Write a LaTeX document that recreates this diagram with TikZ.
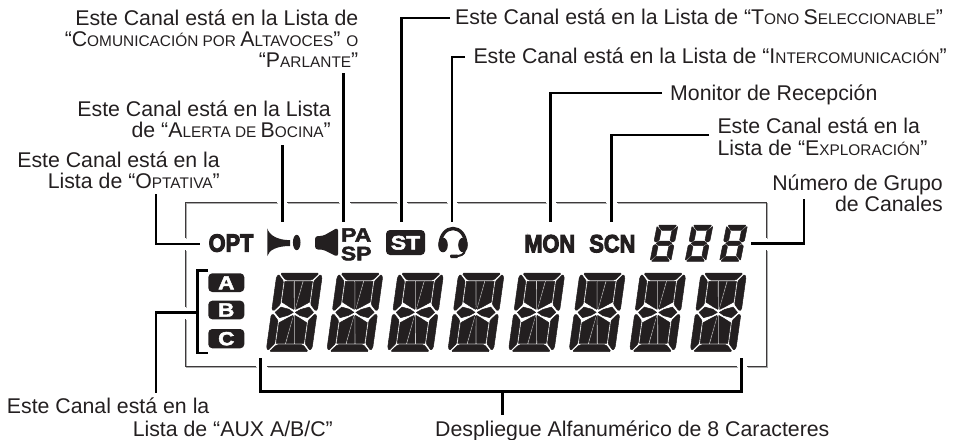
\documentclass[tikz,border=0pt]{standalone}
\usepackage{fontspec}
\setmainfont{Liberation Sans}
\newfontfamily\lcdf{Liberation Sans}[BoldFeatures={FakeBold=4,FakeStretch=.87}]
\newfontfamily\lcdw{Liberation Sans}[BoldFeatures={FakeBold=2.5,FakeStretch=1.18}]
\definecolor{ink}{HTML}{231F20}
\newcommand\smc[1]{{\fontsize{15.4}{21}\selectfont #1}}
\newcommand\rlines[1]{\begin{tabular}[t]{@{}r@{}}#1\end{tabular}}
\newcommand\llines[1]{\begin{tabular}[t]{@{}l@{}}#1\end{tabular}}
\newcommand\clines[1]{\begin{tabular}[t]{@{}c@{}}#1\end{tabular}}
\tikzset{seg/.style={fill=ink,draw=ink,line width=.5pt,line join=round}}
\newcommand\halfbig{%
  \path[seg,rounded corners=1.5pt] (-19.5,39.3)--(19.5,39.3)--(13,32.2)--(-13,32.2)--cycle;
  \path[seg,rounded corners=1pt] (-21,38)--(-22.8,35)--(-22.8,3)--(-21,1.5)--(-15.2,8)--(-15.2,31.2)--cycle;
  \path[seg,rounded corners=1pt] (21,38)--(22.8,35)--(22.8,3)--(21,1.5)--(15.2,8)--(15.2,31.2)--cycle;
  \path[seg] (-19.2,0)--(-14,5.3)--(-6,3.2)--(-1,0)--(-6,-3)--(-14,-5.3)--cycle;
  \path[seg] (-13.8,31)--(-5,31)--(-.9,3)--(-5.5,5.4)--(-13.8,10.3)--cycle;
  \path[seg] (-3.8,31)--(3.8,31)--(0,3.5)--cycle;
  \path[seg] (13.8,31)--(5,31)--(.9,3)--(5.5,5.4)--(13.8,10.3)--cycle;}
\newcommand\bigglyph[1]{%
  \begin{scope}[cm={1,0,.14,1,(#1,312.4)},x=1pt,y=1pt]
    \halfbig
    \begin{scope}[scale=-1]\halfbig\end{scope}
  \end{scope}}
\newcommand\halfsmall{%
  \path[seg,rounded corners=.8pt] (-9.2,18.1)--(9.2,18.1)--(5.2,13)--(-5.2,13)--cycle;
  \path[seg,rounded corners=.6pt] (-10.4,17)--(-5.4,12.3)--(-5.4,3.2)--(-8.2,1)--(-10.4,2.6)--cycle;
  \path[seg,rounded corners=.6pt] (10.4,17)--(5.4,12.3)--(5.4,3.2)--(8.2,1)--(10.4,2.6)--cycle;}
\newcommand\smallglyph[1]{%
  \begin{scope}[cm={1,0,.2,1,(#1,243.3)},x=1pt,y=1pt]
    \halfsmall
    \begin{scope}[scale=-1]\halfsmall\end{scope}
    \path[seg] (-7.8,0)--(-4.8,2.3)--(4.8,2.3)--(7.8,0)--(4.8,-2.3)--(-4.8,-2.3)--cycle;
  \end{scope}}
\tikzset{
  lbl/.style={inner sep=0pt,text=ink,font=\fontsize{21.3}{21}\selectfont},
  lead/.style={draw=black,line width=2.9pt,miter limit=10},
  frameline/.style={draw=#1,line width=1.2pt},
  badge/.style={fill=ink,rounded corners=4pt},
  badgetext/.style={inner sep=0pt,text=white,font=\lcdw\bfseries\fontsize{19}{19}\selectfont},
  lcdword/.style={inner sep=0pt,text=ink,font=\lcdf\bfseries\fontsize{25}{25}\selectfont},
  lcdsmall/.style={inner sep=0pt,text=ink,font=\lcdw\bfseries\fontsize{19.5}{16.6}\selectfont},
}
\newcommand\framepieces{
  (185.5,238)--(185.5,202.5)--(277,202.5)
  (287,202.5)--(339,202.5) (350,202.5)--(397,202.5) (407,202.5)--(447,202.5)
  (457,202.5)--(546,202.5) (556,202.5)--(606,202.5)
  (617,202.5)--(766.5,202.5)--(766.5,238)
  (766.5,250)--(766.5,366.7)--(747,366.7)
  (737,366.7)--(267,366.7)
  (256,366.7)--(185.5,366.7)--(185.5,319)
  (185.5,307)--(185.5,250)}
\begin{document}
\begin{tikzpicture}[x=1pt,y=-1pt]
\useasboundingbox (0,0) rectangle (955,439);
% frame
\begin{scope}[shift={(.9,.9)}]
\path[frameline={black!32}] \framepieces;
\end{scope}
\path[frameline={ink!88}] \framepieces;

% labels
\node[lbl,anchor=base east] (tcom) at (358.5,25) {\rlines{Este Canal está en la Lista de\\“C\smc{OMUNICACIÓN POR }A\smc{LTAVOCES}” \smc{O}\\“P\smc{ARLANTE}”}};
\node[lbl,anchor=base east] (tale) at (331,116) {\rlines{Este Canal está en la Lista\\de “A\smc{LERTA DE }B\smc{OCINA}”}};
\node[lbl,anchor=base east] (topt) at (220,167) {\rlines{Este Canal está en la\\Lista de “O\smc{PTATIVA}”}};
\node[lbl,anchor=base west] (tton) at (455,24) {Este Canal está en la Lista de “T\smc{ONO }S\smc{ELECCIONABLE}”};
\node[lbl,anchor=base west] (tint) at (473.3,63.3) {Este Canal está en la Lista de “I\smc{NTERCOMUNICACIÓN}”};
\node[lbl,anchor=base west] (tmon) at (670,100) {Monitor de Recepción};
\node[lbl,anchor=base west] (texp) at (717.3,133.3) {\llines{Este Canal está en la\\Lista de “E\smc{XPLORACIÓN}”}};
\node[lbl,anchor=base east] (tnum) at (943,190) {\rlines{Número de Grupo\\de Canales}};
\node[lbl,anchor=base west] (taux) at (6.7,413) {Este Canal está en la};
\node[lbl,anchor=base east] (taub) at (333,436) {Lista de “AUX A/B/C”};
\node[lbl,anchor=base west] (tdes) at (435,436) {Despliegue Alfanumérico de 8 Caracteres};

% icon words
\node[lcdword,anchor=base] (opt) at (231,251.7) {OPT};
\node[lcdword,anchor=base] (mon) at (549.7,252.3) {MON};
\node[lcdword,anchor=base] (scn) at (612.3,252.3) {SCN};
\node[lcdsmall,anchor=base] (pasp) at (356.2,241.7) {\clines{PA\\SP}};

% horn
\fill[ink] (267.3,228.3) .. controls (269,235) and (277,240) .. (290,240.2) -- (290,246) .. controls (277,246) and (269,250) .. (267.3,256) -- cycle;
\fill[ink] (296.7,242.5) ellipse [x radius=3.8pt,y radius=7.7pt];
% speaker
\fill[ink,rounded corners=3pt] (315,236)--(323,236)--(338,227.5)--(338,257)--(323,249.5)--(315,249.5)--cycle;
% ST
\path[badge] (386,230) rectangle (425,255);
\node[inner sep=0pt,text=white,font=\lcdw\bfseries\fontsize{19.5}{19.5}\selectfont,anchor=base] (st) at (405.5,249.5) {ST};
% headset
\draw[ink,line width=3.4pt] (440.3,244) arc[start angle=180,end angle=0,x radius=12.7pt,y radius=15.5pt];
\fill[ink] (443,245) ellipse [x radius=4.8pt,y radius=7.3pt];
\fill[ink] (463,245) ellipse [x radius=4.8pt,y radius=7.3pt];
\draw[ink,line width=2pt] (465,250) .. controls (464.5,255) and (460,256) .. (456,256);
\fill[ink,rounded corners=1pt] (450,254.5) rectangle (458,258);

% badges
\path[badge] (208.3,273.3) rectangle (244.3,292);
\node[badgetext,anchor=center] (ba) at (226.3,282.8) {A};
\path[badge] (208.3,300.7) rectangle (244.3,319.3);
\node[badgetext,anchor=center] (bb) at (226.3,310) {B};
\path[badge] (208.3,329) rectangle (244.3,348.3);
\node[badgetext,anchor=center] (bc) at (226.3,338.7) {C};

% big display
\bigglyph{294.3}\bigglyph{354.9}\bigglyph{415.4}\bigglyph{476}\bigglyph{536.6}\bigglyph{597.2}\bigglyph{657.7}\bigglyph{718.3}
% small display
\smallglyph{664}\smallglyph{699}\smallglyph{733.5}

% connector ends
\coordinate (eopt) at (156,194);
\coordinate (ehorn0) at (282.7,145);
\coordinate (ehorn1) at (282.7,222);
\coordinate (epa0) at (343.5,73);
\coordinate (epa1) at (343.5,222);
\coordinate (est0) at (450,18);
\coordinate (est1) at (401.7,222);
\coordinate (eint0) at (465,57);
\coordinate (eint1) at (452,222);
\coordinate (emon0) at (662,93);
\coordinate (emon1) at (550.7,222);
\coordinate (escn0) at (709,135);
\coordinate (escn1) at (611.7,222);
\coordinate (enum0) at (804,199);
\coordinate (enum1) at (751,243.7);
\coordinate (eopt1) at (200,244);
\coordinate (ebr0) at (208,270.7);
\coordinate (ebr1) at (208,353);
\coordinate (ebr2) at (197.7,312.7);
\coordinate (eaux) at (156,393);
\coordinate (edl) at (260.7,358);
\coordinate (edr) at (741.3,358);
\coordinate (edm) at (502.3,391.7);
\coordinate (edb) at (502.3,415);

% connectors
\draw[lead] (eopt) |- (eopt1);
\draw[lead] (ehorn0) -- (ehorn1);
\draw[lead] (epa0) -- (epa1);
\draw[lead] (est0) -| (est1);
\draw[lead] (eint0) -| (eint1);
\draw[lead] (emon0) -| (emon1);
\draw[lead] (escn0) -| (escn1);
\draw[lead] (enum1) -| (enum0);
\draw[lead] (ebr0) -| (ebr1 -| ebr2) -- (ebr1);
\draw[lead] (ebr2) -| (eaux);
\draw[lead] (edl) |- (edm) -| (edr);
\draw[lead] (edm) -- (edb);
\end{tikzpicture}
\end{document}
